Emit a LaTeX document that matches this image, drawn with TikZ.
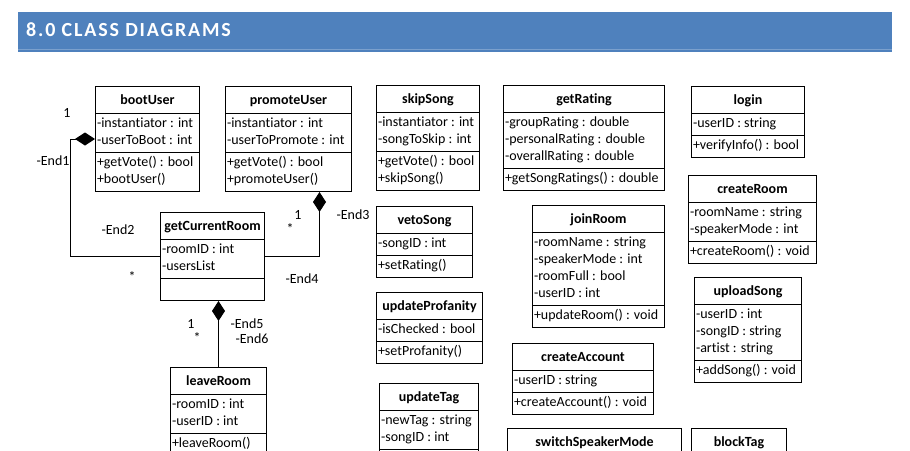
\documentclass[tikz,border=0pt]{standalone}
\usepackage{fontspec}
\setmainfont{Carlito}[Ligatures={NoCommon}]
\newfontfamily\headfont[LetterSpace=9,Ligatures={NoCommon}]{Carlito}
\usetikzlibrary{shapes.multipart,arrows.meta}
\definecolor{headblue}{HTML}{4F81BD}
\definecolor{headedge}{HTML}{7BA0CD}
\newcommand{\cname}[1]{\rule[-6.5pt]{0pt}{22pt}\textbf{#1}}
\tikzset{
  umlclass/.style={draw, line width=1pt, rectangle split, rectangle split parts=3,
    rectangle split part align={center,left,left}, align=left,
    inner xsep=1.5pt, inner ysep=2pt, anchor=north west,
    font=\fontsize{14}{17}\selectfont},
  comp/.style={line width=1pt, -{Diamond[length=20pt,width=13pt]}},
  lbl/.style={font=\fontsize{14}{17}\selectfont, inner sep=0pt}
}
\begin{document}
\begin{tikzpicture}[x=1pt,y=-1pt]
        \useasboundingbox (0,0) rectangle (910,450);
        \clip (0,0) rectangle (910,450);
        \fill[white] (0,0) rectangle (910,450);
        \fill[headblue] (18,12) rectangle (892,52);
        \draw[headedge, line width=0.8pt] (18,49.5) -- (892,49.5);
        \node[anchor=base west, inner sep=0pt, text=white, font=\headfont\bfseries\fontsize{20}{24}\selectfont] (heading) at (26,36) {8.0 CLASS DIAGRAMS};

        \node[umlclass, minimum width=104pt] (bootUser) at (95,86) {\cname{bootUser}
          \nodepart{second}\strut -instantiator : int\\\strut -userToBoot : int
          \nodepart{third}\strut +getVote() : bool\\\strut +bootUser()};
        \node[umlclass, minimum width=126pt] (promoteUser) at (225,86) {\cname{promoteUser}
          \nodepart{second}\strut -instantiator : int\\\strut -userToPromote : int
          \nodepart{third}\strut +getVote() : bool\\\strut +promoteUser()};
        \node[umlclass, minimum width=104pt] (getCurrentRoom) at (160,212) {\cname{getCurrentRoom}
          \nodepart{second}\strut -roomID : int\\\strut -usersList
          \nodepart{third}\strut};
        \node[umlclass, minimum width=96pt] (leaveRoom) at (170,367) {\cname{leaveRoom}
          \nodepart{second}\strut -roomID : int\\\strut -userID : int
          \nodepart{third}\strut +leaveRoom()};

        \node[umlclass, minimum width=103pt] (skipSong) at (376,85) {\cname{skipSong}
          \nodepart{second}\strut -instantiator : int\\\strut -songToSkip : int
          \nodepart{third}\strut +getVote() : bool\\\strut +skipSong()};
        \node[umlclass, minimum width=96pt] (vetoSong) at (376,206) {\cname{vetoSong}
          \nodepart{second}\strut -songID : int
          \nodepart{third}\strut +setRating()};
        \node[umlclass, minimum width=106pt] (updateProfanity) at (376,292) {\cname{updateProfanity}
          \nodepart{second}\strut -isChecked : bool
          \nodepart{third}\strut +setProfanity()};
        \node[umlclass, minimum width=99pt] (updateTag) at (379,383) {\cname{updateTag}
          \nodepart{second}\strut -newTag : string\\\strut -songID : int
          \nodepart{third}\strut};

        \node[umlclass, minimum width=161pt] (getRating) at (503,85) {\cname{getRating}
          \nodepart{second}\strut -groupRating : double\\\strut -personalRating : double\\\strut -overallRating : double
          \nodepart{third}\strut +getSongRatings() : double};
        \node[umlclass, minimum width=132pt] (joinRoom) at (532,205) {\cname{joinRoom}
          \nodepart{second}\strut -roomName : string\\\strut -speakerMode : int\\\strut -roomFull : bool\\\strut -userID : int
          \nodepart{third}\strut +updateRoom() : void};
        \node[umlclass, minimum width=141pt] (createAccount) at (512,343) {\cname{createAccount}
          \nodepart{second}\strut -userID : string
          \nodepart{third}\strut +createAccount() : void};
        \node[umlclass, minimum width=174pt] (switchSpeakerMode) at (507,428) {\cname{switchSpeakerMode}
          \nodepart{second}\strut
          \nodepart{third}\strut};

        \node[umlclass, minimum width=113pt] (login) at (691,86) {\cname{login}
          \nodepart{second}\strut -userID : string
          \nodepart{third}\strut +verifyInfo() : bool};
        \node[umlclass, minimum width=128pt] (createRoom) at (688,175) {\cname{createRoom}
          \nodepart{second}\strut -roomName : string\\\strut -speakerMode : int
          \nodepart{third}\strut +createRoom() : void};
        \node[umlclass, minimum width=107pt] (uploadSong) at (694,277) {\cname{uploadSong}
          \nodepart{second}\strut -userID : int\\\strut -songID : string\\\strut -artist : string
          \nodepart{third}\strut +addSong() : void};
        \node[umlclass, minimum width=95pt] (blockTag) at (691,428) {\cname{blockTag}
          \nodepart{second}\strut
          \nodepart{third}\strut};

        \draw[comp] (getCurrentRoom.west) -- ++(-90,0) |- (bootUser.west);
        \draw[comp] (getCurrentRoom.east) -| ([xshift=31pt]promoteUser.south);
        \draw[comp] (leaveRoom.north) -- (leaveRoom.north |- getCurrentRoom.south);

        \node[lbl] (m1) at (67,113) {1};
        \node[lbl] (e1) at (53,161) {-End1};
        \node[lbl] (e2) at (118,230) {-End2};
        \node[lbl] (m2) at (132,277) {*};
        \node[lbl] (m3) at (298,215) {1};
        \node[lbl] (m4) at (290,229) {*};
        \node[lbl] (e3) at (353,215) {-End3};
        \node[lbl] (e4) at (302,279) {-End4};
        \node[lbl] (m5) at (191,324) {1};
        \node[lbl] (m6) at (197,338) {*};
        \node[lbl] (e5) at (247,324) {-End5};
        \node[lbl] (e6) at (252,339) {-End6};
\end{tikzpicture}
\end{document}
